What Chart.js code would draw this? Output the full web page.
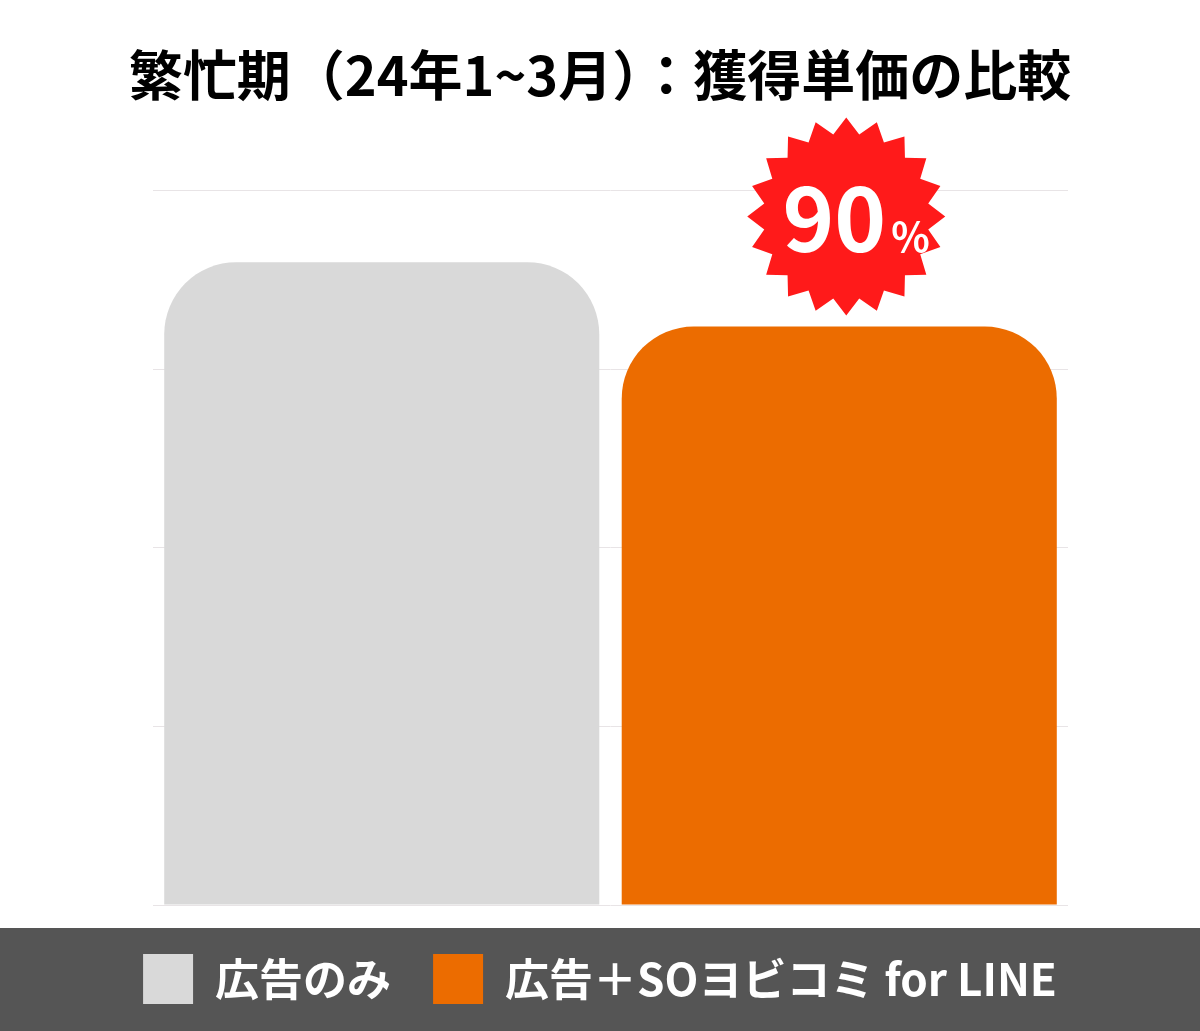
<!DOCTYPE html>
<html lang="ja">
<head>
<meta charset="utf-8">
<script src="https://cdn.jsdelivr.net/npm/chart.js@4.4.1/dist/chart.umd.min.js"></script>
<style>
html, body { margin: 0; padding: 0; background: #fff; }
#wrap { width: 1200px; height: 1031px; }
</style>
</head>
<body>
<div id="wrap"><canvas id="graph_1"></canvas></div>
<script>
// データ
var categories = ['獲得単価'];
var seriesNames = ['広告のみ', '広告＋SOヨビコミ for LINE'];
var adOnly = [90];
var adWithLine = [81];
var yTicks = [0, 25, 50, 75, 100];
var badgeText = ['90', '%'];

var FONT = '"Noto Sans CJK JP", "Noto Sans", sans-serif';

// 凡例の背景帯
var legendBand = {
    id: 'legendBand',
    beforeDraw: function(chart) {
        var lg = chart.legend;
        if (!lg || !lg.legendHitBoxes || !lg.legendHitBoxes.length) return;
        var top = lg.legendHitBoxes[0].top - 26;
        var c = chart.ctx;
        c.save();
        c.fillStyle = '#555555';
        c.fillRect(0, top, chart.width, chart.height - top);
        c.restore();
    }
};

// ギザギザのバッジ
var badge = {
    id: 'badge',
    afterDatasetsDraw: function(chart) {
        var bar = chart.getDatasetMeta(1).data[0];
        if (!bar) return;
        var c = chart.ctx;
        var cx = bar.x + 7, cy = bar.y - 110;
        var n = 20, ro = 99, ri = 83;
        c.save();
        c.beginPath();
        for (var i = 0; i < n * 2; i++) {
            var a = -Math.PI / 2 + i * Math.PI / n;
            var r = (i % 2) ? ri : ro;
            var px = cx + Math.cos(a) * r, py = cy + Math.sin(a) * r;
            if (i === 0) c.moveTo(px, py); else c.lineTo(px, py);
        }
        c.closePath();
        c.fillStyle = '#ff1a1a';
        c.fill();
        c.fillStyle = '#ffffff';
        c.textBaseline = 'alphabetic';
        c.textAlign = 'right';
        c.font = 'bold 88px ' + FONT;
        c.fillText(badgeText[0], cx + 40, cy + 36);
        c.textAlign = 'left';
        c.font = 'bold 40px ' + FONT;
        c.fillText(badgeText[1], cx + 45, cy + 36);
        c.restore();
    }
};

var ctx = document.getElementById('graph_1');

var chart = new Chart(ctx, {
    type: 'bar',
    data: {
        labels: categories,
        datasets: [{
            label: seriesNames[0],
            data: adOnly,
            backgroundColor: '#d9d9d9',
            borderRadius: { topLeft: 72, topRight: 72, bottomLeft: 0, bottomRight: 0 },
            borderSkipped: false
        }, {
            label: seriesNames[1],
            data: adWithLine,
            backgroundColor: '#ec6c00',
            borderRadius: { topLeft: 72, topRight: 72, bottomLeft: 0, bottomRight: 0 },
            borderSkipped: false
        }]
    },
    options: {
        responsive: true,
        maintainAspectRatio: false,
        animation: false,
        layout: { padding: { left: 0, right: 0, top: 0, bottom: 17 } },
        datasets: { bar: { categoryPercentage: 1, barPercentage: 0.951 } },
        scales: {
            x: {
                display: true,
                grid: { display: false },
                border: { display: false },
                ticks: { display: false },
                afterFit: function(s) { s.height = 7; }
            },
            y: {
                min: 0,
                max: 100,
                afterBuildTicks: function(s) {
                    s.ticks = yTicks.map(function(v) { return { value: v }; });
                },
                afterFit: function(s) { s.width = 153; },
                ticks: { display: false },
                border: { display: false },
                grid: { color: '#e8e4e6', lineWidth: 1, drawTicks: false }
            },
            // 右側の余白用
            yRight: {
                position: 'right',
                display: true,
                min: 0,
                max: 100,
                afterFit: function(s) { s.width = 132; },
                ticks: { display: false },
                border: { display: false },
                grid: { display: false }
            }
        },
        plugins: {
            title: {
                display: true,
                text: '繁忙期（24年1~3月）：獲得単価の比較',
                color: '#000000',
                font: { family: FONT, size: 54, weight: 'bold' },
                padding: { top: 43, bottom: 83 }
            },
            legend: {
                position: 'bottom',
                labels: {
                    boxWidth: 50,
                    boxHeight: 50,
                    padding: 42,
                    color: '#ffffff',
                    font: { family: FONT, size: 44, weight: 'bold' }
                }
            },
            tooltip: { enabled: false }
        }
    },
    plugins: [legendBand, badge]
});
</script>
</body>
</html>
